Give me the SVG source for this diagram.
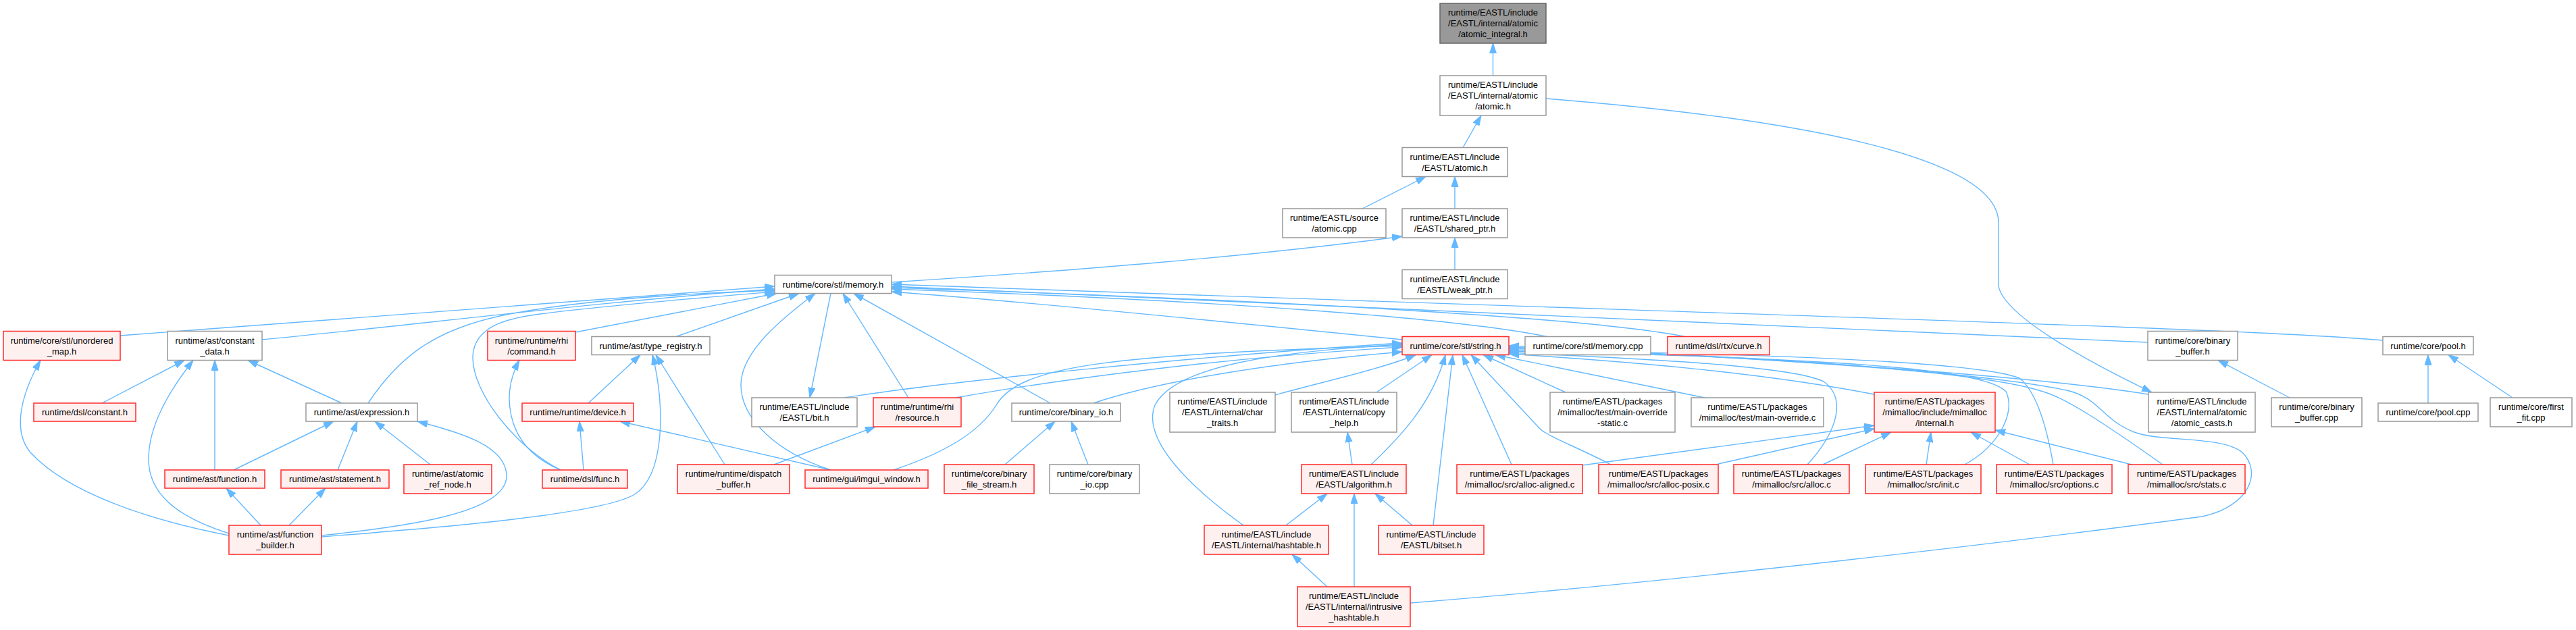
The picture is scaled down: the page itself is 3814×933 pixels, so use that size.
<svg xmlns="http://www.w3.org/2000/svg" width="3814" height="933" viewBox="0 0 3814 933">
<style>
.w{fill:#ffffff;stroke:#999999;stroke-width:1.5}
.r{fill:#fff0f0;stroke:#ff2a2a;stroke-width:1.5}
.g{fill:#999999;stroke:#666666;stroke-width:1.5}
text{font-family:"Liberation Sans",Arial,Helvetica,sans-serif;font-size:13px;text-anchor:middle;fill:#000000}
#edges path{fill:none;stroke:#63b8ff;stroke-width:1.4;marker-end:url(#ah)}
</style>
<defs>
<marker id="ah" markerUnits="userSpaceOnUse" markerWidth="15" markerHeight="11" viewBox="0 0 15 11" refX="15" refY="5.5" orient="auto">
<path d="M0,0.5 L15,5.5 L0,10.5 z" fill="#63b8ff" stroke="#63b8ff" stroke-width="1"/>
</marker>
</defs>
<rect x="0" y="0" width="3814" height="933" fill="#ffffff"/>
<g id="edges">
<path d="M2210.5,112 L2210.5,64"/>
<path d="M2166,218.5 L2193,171"/>
<path d="M2017,309 L2111,261.5"/>
<path d="M2154,309 L2154,261.5"/>
<path d="M2154,399.5 L2154,352"/>
<path d="M1320,418 C1600,400 1850,380 2076,350"/>
<path d="M2289,146 C2650,175 2959,230 2959,330 L2959,423 C2965,465 3080,530 3186,581"/>
<path d="M178,497 L1147,424"/>
<path d="M388,503 C600,483 900,445 1147,428"/>
<path d="M545,597 C590,530 640,490 740,468 C850,445 1000,435 1147,430"/>
<path d="M830,696 C760,660 700,580 700,530 C700,480 760,470 800,465 C900,452 1050,440 1147,432"/>
<path d="M852,492 L1150,434.5"/>
<path d="M1001,498.5 L1183,434.5"/>
<path d="M1230,696 C1150,670 1097,620 1097,570 C1097,520 1160,470 1207,434.5"/>
<path d="M1230,434.5 L1199,589"/>
<path d="M1345,589 L1248,434.5"/>
<path d="M1555,597 L1264,434.5"/>
<path d="M2076,503 C1800,475 1500,445 1320,432"/>
<path d="M2291,498.5 C2150,470 1800,445 1320,428"/>
<path d="M2495,498.5 C2350,470 1900,445 1320,426"/>
<path d="M3180,507 L1320,424"/>
<path d="M3528,504 C3300,485 2600,467 1320,421"/>
<path d="M1415,589 C1550,565 1800,530 2076,514"/>
<path d="M1323,696 C1400,670 1450,640 1475,600 C1510,540 1650,525 2076,512"/>
<path d="M1619,597 C1700,570 1850,540 2076,521"/>
<path d="M1841,778 C1760,720 1690,650 1710,600 C1740,540 1900,520 2076,510"/>
<path d="M1250,589 C1400,565 1800,525 2076,508"/>
<path d="M1888,585 C1960,565 2050,545 2096,525.5"/>
<path d="M2038,581 L2120,525.5"/>
<path d="M2030,688 C2070,650 2120,600 2140,525.5"/>
<path d="M2122,778 L2151,525.5"/>
<path d="M2238,688 L2165,525.5"/>
<path d="M2385,688 C2330,660 2290,645 2280,635 L2178,525.5"/>
<path d="M2318,581 L2196,525.5"/>
<path d="M2524,589 L2214,525.5"/>
<path d="M2775,584 C2600,550 2400,535 2234,524"/>
<path d="M2676,688 C2720,640 2735,590 2700,565 C2650,540 2400,530 2234,522"/>
<path d="M2909,688 C2960,660 2985,610 2970,580 C2940,545 2700,530 2234,520"/>
<path d="M3040,688 C3030,630 3015,580 2990,560 C2940,540 2700,525 2234,518"/>
<path d="M3202,688 C3120,630 3060,590 3025,580 C2950,555 2700,530 2234,516"/>
<path d="M2088,893 C2500,860 3000,800 3260,765 C3330,750 3350,700 3320,670 C3290,645 3200,655 3160,640 C3110,620 3110,590 3060,578 C2900,545 2500,525 2234,514"/>
<path d="M3181,584 C3000,555 2600,530 2234,512"/>
<path d="M2343,689 L2775,630"/>
<path d="M2544,687 L2775,635"/>
<path d="M2699,688 L2800,640"/>
<path d="M2852,688 L2859,640"/>
<path d="M3005,688 L2918,640"/>
<path d="M3156,688 L2954,637"/>
<path d="M2002,688 L1995,640"/>
<path d="M1904,778 L1965,731"/>
<path d="M2005,869 L2005,731"/>
<path d="M2091,778 L2036,731"/>
<path d="M1965,869 L1913,821"/>
<path d="M1488,688 L1562,624"/>
<path d="M1611,688 L1586,624"/>
<path d="M871,597 L948,525.5"/>
<path d="M1073,688 L971,525.5"/>
<path d="M476,795 C600,785 880,765 938,733 C985,705 985,600 966,525.5"/>
<path d="M864,696 L858,624"/>
<path d="M1230,696 L918,624"/>
<path d="M830,696 C780,675 755,640 754,590 C754,570 760,550 769,533.5"/>
<path d="M1146,688 L1296,632"/>
<path d="M346,696 L494,624"/>
<path d="M500,696 L529,624"/>
<path d="M637,688 L555,624"/>
<path d="M476,793 C600,780 750,760 750,705 C750,660 680,640 618,624"/>
<path d="M151,597 L273,533.5"/>
<path d="M506,597 L367,533.5"/>
<path d="M318,696 L318,533.5"/>
<path d="M339,790 C260,765 220,730 220,680 C220,630 250,580 286,533.5"/>
<path d="M339,793 C220,770 100,730 45,670 C20,640 28,590 60,533.5"/>
<path d="M386,778 L335,723"/>
<path d="M428,778 L482,723"/>
<path d="M3390,589 L3284,533.5"/>
<path d="M3595,597 L3595,525.5"/>
<path d="M3720,589 L3625,525.5"/>
</g>
<g id="n0"><rect class="g" x="2132" y="5" width="157" height="59"/><text><tspan x="2210.5" y="23">runtime/EASTL/include</tspan><tspan x="2210.5" y="39">/EASTL/internal/atomic</tspan><tspan x="2210.5" y="55">/atomic_integral.h</tspan></text></g>
<g id="n1"><rect class="w" x="2132" y="112" width="157" height="59"/><text><tspan x="2210.5" y="130">runtime/EASTL/include</tspan><tspan x="2210.5" y="146">/EASTL/internal/atomic</tspan><tspan x="2210.5" y="162">/atomic.h</tspan></text></g>
<g id="n2"><rect class="w" x="2076" y="218.5" width="156" height="43"/><text><tspan x="2154" y="236.5">runtime/EASTL/include</tspan><tspan x="2154" y="252.5">/EASTL/atomic.h</tspan></text></g>
<g id="n3"><rect class="w" x="1899" y="309" width="153" height="43"/><text><tspan x="1975.5" y="327">runtime/EASTL/source</tspan><tspan x="1975.5" y="343">/atomic.cpp</tspan></text></g>
<g id="n4"><rect class="w" x="2076" y="309" width="156" height="43"/><text><tspan x="2154" y="327">runtime/EASTL/include</tspan><tspan x="2154" y="343">/EASTL/shared_ptr.h</tspan></text></g>
<g id="n5"><rect class="w" x="2076" y="399.5" width="156" height="43"/><text><tspan x="2154" y="417.5">runtime/EASTL/include</tspan><tspan x="2154" y="433.5">/EASTL/weak_ptr.h</tspan></text></g>
<g id="n6"><rect class="w" x="1147" y="407.5" width="173" height="27"/><text x="1233.5" y="425.5">runtime/core/stl/memory.h</text></g>
<g id="n7"><rect class="r" x="5" y="490.5" width="173" height="43"/><text><tspan x="91.5" y="508.5">runtime/core/stl/unordered</tspan><tspan x="91.5" y="524.5">_map.h</tspan></text></g>
<g id="n8"><rect class="w" x="248" y="490.5" width="140" height="43"/><text><tspan x="318" y="508.5">runtime/ast/constant</tspan><tspan x="318" y="524.5">_data.h</tspan></text></g>
<g id="n9"><rect class="r" x="722" y="490.5" width="130" height="43"/><text><tspan x="787" y="508.5">runtime/runtime/rhi</tspan><tspan x="787" y="524.5">/command.h</tspan></text></g>
<g id="n10"><rect class="w" x="876" y="498.5" width="175" height="27"/><text x="963.5" y="516.5">runtime/ast/type_registry.h</text></g>
<g id="n11"><rect class="r" x="2076" y="498.5" width="158" height="27"/><text x="2155" y="516.5">runtime/core/stl/string.h</text></g>
<g id="n12"><rect class="w" x="2258" y="498.5" width="186" height="27"/><text x="2351" y="516.5">runtime/core/stl/memory.cpp</text></g>
<g id="n13"><rect class="r" x="2469" y="498.5" width="151" height="27"/><text x="2544.5" y="516.5">runtime/dsl/rtx/curve.h</text></g>
<g id="n14"><rect class="w" x="3180" y="490.5" width="133" height="43"/><text><tspan x="3246.5" y="508.5">runtime/core/binary</tspan><tspan x="3246.5" y="524.5">_buffer.h</tspan></text></g>
<g id="n15"><rect class="w" x="3528" y="498.5" width="134" height="27"/><text x="3595" y="516.5">runtime/core/pool.h</text></g>
<g id="n16"><rect class="r" x="50" y="597" width="151" height="27"/><text x="125.5" y="615">runtime/dsl/constant.h</text></g>
<g id="n17"><rect class="w" x="453" y="597" width="165" height="27"/><text x="535.5" y="615">runtime/ast/expression.h</text></g>
<g id="n18"><rect class="r" x="773" y="597" width="165" height="27"/><text x="855.5" y="615">runtime/runtime/device.h</text></g>
<g id="n19"><rect class="w" x="1113" y="589" width="156" height="43"/><text><tspan x="1191" y="607">runtime/EASTL/include</tspan><tspan x="1191" y="623">/EASTL/bit.h</tspan></text></g>
<g id="n20"><rect class="r" x="1293" y="589" width="130" height="43"/><text><tspan x="1358" y="607">runtime/runtime/rhi</tspan><tspan x="1358" y="623">/resource.h</tspan></text></g>
<g id="n21"><rect class="w" x="1498" y="597" width="161" height="27"/><text x="1578.5" y="615">runtime/core/binary_io.h</text></g>
<g id="n22"><rect class="w" x="1732" y="581" width="156" height="59"/><text><tspan x="1810" y="599">runtime/EASTL/include</tspan><tspan x="1810" y="615">/EASTL/internal/char</tspan><tspan x="1810" y="631">_traits.h</tspan></text></g>
<g id="n23"><rect class="w" x="1912" y="581" width="156" height="59"/><text><tspan x="1990" y="599">runtime/EASTL/include</tspan><tspan x="1990" y="615">/EASTL/internal/copy</tspan><tspan x="1990" y="631">_help.h</tspan></text></g>
<g id="n24"><rect class="w" x="2295" y="581" width="185" height="59"/><text><tspan x="2387.5" y="599">runtime/EASTL/packages</tspan><tspan x="2387.5" y="615">/mimalloc/test/main-override</tspan><tspan x="2387.5" y="631">-static.c</tspan></text></g>
<g id="n25"><rect class="w" x="2504" y="589" width="196" height="43"/><text><tspan x="2602" y="607">runtime/EASTL/packages</tspan><tspan x="2602" y="623">/mimalloc/test/main-override.c</tspan></text></g>
<g id="n26"><rect class="r" x="2775" y="581" width="179" height="59"/><text><tspan x="2864.5" y="599">runtime/EASTL/packages</tspan><tspan x="2864.5" y="615">/mimalloc/include/mimalloc</tspan><tspan x="2864.5" y="631">/internal.h</tspan></text></g>
<g id="n27"><rect class="w" x="3181" y="581" width="158" height="59"/><text><tspan x="3260" y="599">runtime/EASTL/include</tspan><tspan x="3260" y="615">/EASTL/internal/atomic</tspan><tspan x="3260" y="631">/atomic_casts.h</tspan></text></g>
<g id="n28"><rect class="w" x="3363" y="589" width="134" height="43"/><text><tspan x="3430" y="607">runtime/core/binary</tspan><tspan x="3430" y="623">_buffer.cpp</tspan></text></g>
<g id="n29"><rect class="w" x="3521" y="597" width="148" height="27"/><text x="3595" y="615">runtime/core/pool.cpp</text></g>
<g id="n30"><rect class="w" x="3687" y="589" width="121" height="43"/><text><tspan x="3747.5" y="607">runtime/core/first</tspan><tspan x="3747.5" y="623">_fit.cpp</tspan></text></g>
<g id="n31"><rect class="r" x="244" y="696" width="148" height="27"/><text x="318" y="714">runtime/ast/function.h</text></g>
<g id="n32"><rect class="r" x="416" y="696" width="160" height="27"/><text x="496" y="714">runtime/ast/statement.h</text></g>
<g id="n33"><rect class="r" x="598" y="688" width="130" height="43"/><text><tspan x="663" y="706">runtime/ast/atomic</tspan><tspan x="663" y="722">_ref_node.h</tspan></text></g>
<g id="n34"><rect class="r" x="803" y="696" width="126" height="27"/><text x="866" y="714">runtime/dsl/func.h</text></g>
<g id="n35"><rect class="r" x="1003" y="688" width="166" height="43"/><text><tspan x="1086" y="706">runtime/runtime/dispatch</tspan><tspan x="1086" y="722">_buffer.h</tspan></text></g>
<g id="n36"><rect class="r" x="1192" y="696" width="182" height="27"/><text x="1283" y="714">runtime/gui/imgui_window.h</text></g>
<g id="n37"><rect class="r" x="1398" y="688" width="133" height="43"/><text><tspan x="1464.5" y="706">runtime/core/binary</tspan><tspan x="1464.5" y="722">_file_stream.h</tspan></text></g>
<g id="n38"><rect class="w" x="1554" y="688" width="133" height="43"/><text><tspan x="1620.5" y="706">runtime/core/binary</tspan><tspan x="1620.5" y="722">_io.cpp</tspan></text></g>
<g id="n39"><rect class="r" x="1927" y="688" width="155" height="43"/><text><tspan x="2004.5" y="706">runtime/EASTL/include</tspan><tspan x="2004.5" y="722">/EASTL/algorithm.h</tspan></text></g>
<g id="n40"><rect class="r" x="2157" y="688" width="186" height="43"/><text><tspan x="2250" y="706">runtime/EASTL/packages</tspan><tspan x="2250" y="722">/mimalloc/src/alloc-aligned.c</tspan></text></g>
<g id="n41"><rect class="r" x="2367" y="688" width="177" height="43"/><text><tspan x="2455.5" y="706">runtime/EASTL/packages</tspan><tspan x="2455.5" y="722">/mimalloc/src/alloc-posix.c</tspan></text></g>
<g id="n42"><rect class="r" x="2567" y="688" width="171" height="43"/><text><tspan x="2652.5" y="706">runtime/EASTL/packages</tspan><tspan x="2652.5" y="722">/mimalloc/src/alloc.c</tspan></text></g>
<g id="n43"><rect class="r" x="2762" y="688" width="171" height="43"/><text><tspan x="2847.5" y="706">runtime/EASTL/packages</tspan><tspan x="2847.5" y="722">/mimalloc/src/init.c</tspan></text></g>
<g id="n44"><rect class="r" x="2956" y="688" width="171" height="43"/><text><tspan x="3041.5" y="706">runtime/EASTL/packages</tspan><tspan x="3041.5" y="722">/mimalloc/src/options.c</tspan></text></g>
<g id="n45"><rect class="r" x="3151" y="688" width="173" height="43"/><text><tspan x="3237.5" y="706">runtime/EASTL/packages</tspan><tspan x="3237.5" y="722">/mimalloc/src/stats.c</tspan></text></g>
<g id="n46"><rect class="r" x="339" y="778" width="137" height="43"/><text><tspan x="407.5" y="796">runtime/ast/function</tspan><tspan x="407.5" y="812">_builder.h</tspan></text></g>
<g id="n47"><rect class="r" x="1783" y="778" width="184" height="43"/><text><tspan x="1875" y="796">runtime/EASTL/include</tspan><tspan x="1875" y="812">/EASTL/internal/hashtable.h</tspan></text></g>
<g id="n48"><rect class="r" x="2041" y="778" width="156" height="43"/><text><tspan x="2119" y="796">runtime/EASTL/include</tspan><tspan x="2119" y="812">/EASTL/bitset.h</tspan></text></g>
<g id="n49"><rect class="r" x="1921" y="869" width="167" height="59"/><text><tspan x="2004.5" y="887">runtime/EASTL/include</tspan><tspan x="2004.5" y="903">/EASTL/internal/intrusive</tspan><tspan x="2004.5" y="919">_hashtable.h</tspan></text></g>
</svg>
